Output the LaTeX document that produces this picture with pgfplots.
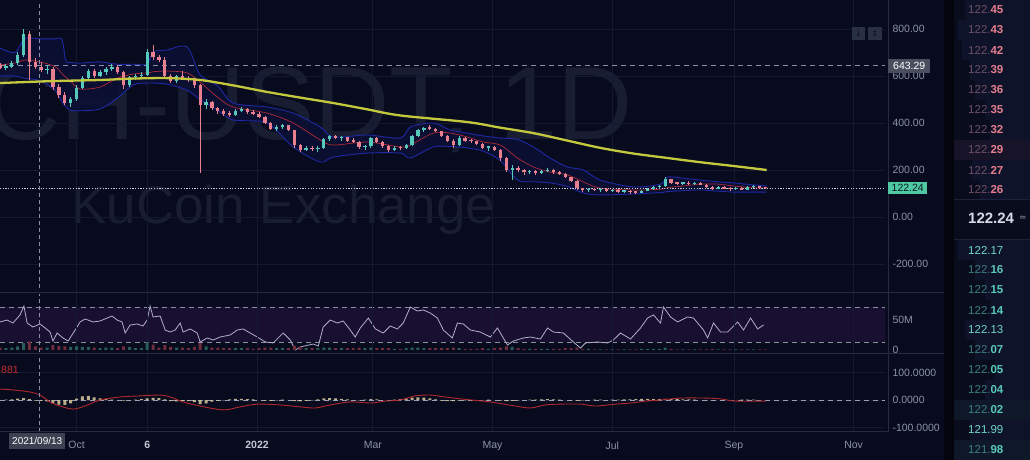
\documentclass[border=0pt]{standalone}
\usepackage{fontspec}
\setmainfont{Liberation Sans}
\newfontfamily\dejavu{DejaVu Sans}
\usepackage{pgfplots}
\usepackage{pgfplotstable}
\pgfplotsset{compat=1.18}

\definecolor{bg}{HTML}{070B1D}
\definecolor{gridc}{HTML}{131931}
\definecolor{axc}{HTML}{252B40}
\definecolor{wm}{HTML}{181D32}
\definecolor{upc}{HTML}{56C9BC}
\definecolor{dnc}{HTML}{E8808F}
\definecolor{bbc}{HTML}{2028A4}
\definecolor{bbfill}{HTML}{0B1034}
\definecolor{basisc}{HTML}{B02A38}
\definecolor{mac}{HTML}{C4C83E}
\definecolor{labc}{HTML}{8C93A8}
\definecolor{dashc}{HTML}{8A8FA6}
\definecolor{rsifill}{HTML}{180F31}
\definecolor{rsic}{HTML}{B4AECC}
\definecolor{volup}{HTML}{2A5C5A}
\definecolor{voldn}{HTML}{6E2C3C}
\definecolor{sigc}{HTML}{B02830}
\definecolor{histc}{HTML}{CFC39A}
\definecolor{obbg}{HTML}{090C1D}
\definecolor{obdepth}{HTML}{0F1329}
\definecolor{askdim}{HTML}{6E5066}
\definecolor{askc}{HTML}{E67E8E}
\definecolor{biddim}{HTML}{3A7E7E}
\definecolor{bidc}{HTML}{58C8BA}
\definecolor{bidhi}{HTML}{6ED6C8}
\definecolor{lblbox}{HTML}{4A4F60}
\definecolor{lastbox}{HTML}{4FC9A3}
\definecolor{btn}{HTML}{283041}
\definecolor{btnarr}{HTML}{0B0F1E}
\definecolor{askhl}{HTML}{17142A}
\definecolor{bidhl}{HTML}{0F1829}
\definecolor{obsep}{HTML}{1C2238}
\definecolor{lastline}{HTML}{C8CCD8}
\definecolor{brightlab}{HTML}{C4C8D4}
\definecolor{zeroc}{HTML}{9A9EB0}
\definecolor{lasttxt}{HTML}{0A1A20}
\definecolor{datebox}{HTML}{3C4252}
\definecolor{redtxt}{HTML}{C42A2C}
\definecolor{midtxt}{HTML}{D6DAE6}
\definecolor{gap}{HTML}{04050C}

\newcommand\tf{\fontsize{10.5}{12}\selectfont}
\newcommand\obf{\fontsize{11.5}{13}\selectfont}

% rising candles: day, open, high, low, close, volume (M)
\pgfplotstableread{
d o h l c v
3 635 650 625 640 3
6 640 665 635 655 4
9 655 700 645 690 6
12 690 800 680 780 12
24 625 645 610 630 4
36 485 510 468 500 5
39 500 560 495 550 6
42 550 600 545 590 5
45 590 630 585 620 5
51 600 625 595 615 3
54 615 640 605 630 4
57 630 650 620 640 4
66 560 600 555 595 5
69 595 610 585 598 3
72 598 615 590 605 3
75 605 715 600 700 13
90 580 605 570 600 4
105 475 500 460 490 6
120 435 460 430 452 3
123 452 470 445 460 3
141 375 390 365 385 3
144 385 395 375 390 3
156 285 300 280 295 3
162 288 300 275 295 3
165 295 335 290 330 4
168 330 350 325 345 4
174 335 345 325 340 3
186 298 305 285 300 3
189 300 342 295 335 4
201 285 300 280 295 2
207 292 310 288 305 3
210 305 350 300 345 4
213 345 375 340 370 4
216 370 385 360 380 3
234 305 345 300 338 3
249 295 302 280 298 2
261 200 220 157 210 5
270 190 200 185 196 2
276 188 200 182 195 2
279 195 210 190 202 2
300 115 122 108 118 2
306 114 122 108 119 1
312 110 118 105 113 1
318 108 115 102 112 1
327 104 115 102 112 2
330 112 125 110 120 2
333 120 130 117 127 2
336 127 135 120 130 2
339 130 170 128 160 4
348 142 150 136 146 1
354 140 148 135 144 1
366 120 130 118 127 1
375 118 127 115 124 1
381 117 130 115 126 1
384 126 135 122 130 1
}\upc

% falling candles
\pgfplotstableread{
d o h l c v
0 645 655 630 635 4
15 780 790 583 660 14
18 660 675 630 640 6
21 640 660 615 625 4
27 630 640 540 555 8
30 555 565 505 520 7
33 520 530 475 485 6
48 620 630 590 600 4
60 640 645 610 615 3
63 615 620 545 560 6
78 700 732 670 680 9
81 680 690 660 670 4
84 670 680 590 600 8
87 600 610 570 580 5
93 600 622 585 592 4
96 592 600 575 585 3
99 585 590 550 560 5
102 560 565 187 475 12
108 490 495 455 465 4
111 465 470 440 450 4
114 450 460 430 440 3
117 440 450 425 435 3
126 460 465 440 445 3
129 445 455 435 440 2
132 440 445 420 425 3
135 425 430 395 400 4
138 400 405 370 375 4
147 390 392 365 370 3
150 370 372 295 305 7
153 305 310 275 285 5
159 295 300 280 288 3
171 345 348 330 335 3
177 340 342 320 325 3
180 325 335 315 320 3
183 320 322 290 298 4
192 335 340 315 320 3
195 320 322 295 300 3
198 300 305 275 285 3
204 295 300 285 292 2
219 380 391 370 375 3
222 375 380 360 365 3
225 365 368 340 345 3
228 345 350 320 325 3
231 325 330 295 305 4
237 338 342 320 325 2
240 325 332 315 322 2
243 322 325 305 310 2
246 310 315 290 295 3
252 298 300 280 285 3
255 285 290 240 250 4
258 250 255 190 200 6
264 210 215 190 198 3
267 198 205 180 190 2
273 196 200 180 188 2
282 202 205 185 190 2
285 190 195 180 184 2
288 184 188 165 170 3
291 170 172 150 155 3
294 155 158 115 122 4
297 122 125 108 115 2
303 118 124 110 114 1
309 119 122 105 110 1
315 113 118 104 108 1
321 112 116 100 105 1
324 105 110 100 104 1
342 160 162 140 145 2
345 145 150 138 142 1
351 146 152 138 140 1
357 144 150 135 138 1
360 138 140 125 128 1
363 128 132 115 120 2
369 127 132 118 121 1
372 121 126 112 118 1
378 124 128 114 117 1
387 130 132 120 124 1
390 124 128 119 122.24 1
}\dnc

% MACD histogram
\pgfplotstableread{
d m
3 1
6 2
9 5
12 7
15 3
18 -2
21 -3
24 -5
27 -12
30 -17
33 -18
36 -12
39 5
42 13
45 15
48 10
51 6
54 3
57 1
63 -2
66 -1
69 1
72 3
75 6
78 8
81 7
84 2
87 -4
90 -5
93 -3
96 -4
99 -8
102 -15
105 -12
108 -6
111 -3
114 -1
117 2
120 4
123 4
126 3
129 2
135 -2
138 -3
141 -1
144 1
150 -4
153 -5
156 -3
159 -1
162 2
165 6
168 7
171 6
174 4
177 2
183 -1
186 1
189 3
192 2
198 -1
201 1
204 3
207 6
210 9
213 10
216 9
219 6
222 2
225 -2
228 -4
231 -4
234 -2
237 -1
240 -2
243 -2
246 -1
249 1
255 -2
258 -4
261 -3
264 -1
270 1
273 1
276 2
279 3
282 2
285 1
291 -1
294 -2
297 -1
303 1
306 1
312 1
315 1
318 2
321 2
324 3
327 4
330 4
333 3
336 3
339 4
342 3
345 3
348 2
351 2
354 1
360 -1
363 -1
372 -1
378 1
381 1
384 1
}\hist

\pgfplotstableread{
d up mid lo
0 719 647 600
7.6 700 655 600
12.7 760 668 590
20.4 758 660 580
28 758 640 540
31.6 755 610 490
33.5 665 595 470
35.7 658 580 455
40.8 655 545 452
51 660 553 460
59.7 650 591 505
67.8 650 608 562
75 650 613 570
78 702 618 570
85.2 711 621 565
95.4 723 613 540
102 604 574 500
110.7 560 511 455
118.8 485 468 413
136.2 468 442 400
149.4 442 400 298
163.2 383 328 234
169.8 340 306 255
187.2 349 319 272
204 336 298 272
209.1 383 306 251
220.8 400 357 298
229.5 370 357 300
238.2 357 340 294
246.3 345 319 280
255 336 306 240
263.7 330 251 157
271.8 298 213 150
280.5 250 191 145
289.2 213 179 130
297.3 200 149 102
306 157 123 94
322.8 128 115 98
336.6 140 118 104
340.2 170 125 108
348.3 165 132 112
357 157 140 115
365.7 150 140 110
373.8 145 132 106
382.5 138 125 106
390.7 132 123 106
}\bands

\pgfplotstableread{
d ma
0 570
25.5 578
51 583
67.8 589
85.2 591
102 583
118.8 560
136.2 532
153 508
169.8 485
187.2 458
204 432
238.2 404
255 380
271.8 357
289.2 325
306 294
322.8 270
340.2 251
357 233
373.8 217
390.7 200
}\mad

\pgfplotstableread{
d rsi
0 52.9
3.6 55.1
6.6 51.7
10.2 60.9
12.2 71.1
13.8 51.7
16.8 47.1
20.4 50.6
23 46
25.5 41.4
27 31.1
29.1 40.3
32.1 34.6
34.7 31.1
38.3 43.7
40.8 52.9
43.4 56.3
47.4 52.9
51 54
54.6 57.4
57.1 59.7
59.7 55.1
62.2 52.9
63.8 40.3
66.3 49.4
69.9 50.6
72.9 48.3
75 55.1
76.5 71.1
78 58.6
81.6 59.7
84.2 43.7
86.7 41.4
89.3 43.7
91.8 51.7
93.3 41.4
96.9 44.9
100.5 40.3
102 30
105.6 34.6
108.6 32.3
112.2 35.7
117.3 38
120.9 43.7
123.9 44.9
127.5 40.3
131.1 35.7
135.2 30
139.2 28.9
144.3 40.3
147.9 32.3
150.5 20.9
153 24.3
159.6 27.7
162.2 25.4
164.7 47.1
168.3 55.1
171.9 51.7
174.9 54
178.5 43.7
181 35.7
183.6 46
187.7 57.4
191.3 44.9
195.3 40.3
198.9 48.3
202.5 44.9
205.5 51.7
209.1 70
212.7 65.4
215.7 66.6
219.3 63.1
222.9 57.4
225.9 43.7
230.5 34.6
233.1 51.7
236.1 50.6
239.7 43.7
244.8 41.4
249.9 35.7
253.5 46
256.5 34.6
258.6 26.6
261.6 31.1
266.7 34.6
270.3 35.7
275.4 33.4
279 46
282 41.4
287.1 40.3
292.2 30
295.8 23.1
298.4 28.9
304.5 30
309.6 28.9
312.6 32.3
316.2 40.3
321.3 33.4
326.4 46
330 57.4
333 60.9
336.6 51.7
338.1 70
341.7 58.6
345.3 52.9
350.4 58.6
353.4 57.4
358.5 43.7
360.6 34.6
363.6 51.7
367.2 41.4
370.8 41.4
375.9 52.9
378.9 43.7
382.5 57.4
386.1 44.9
389.1 49.4
}\rsid

\pgfplotstableread{
d sig
0 40
7.6 36
15.3 29
20.4 18
25.5 -7
30.6 -22
37.2 -33
43.3 -22
51 0
61.2 11
71.4 15
81.6 18
86.7 11
93.3 -7
102 -22
113.7 -36
122.4 -25
131.1 -15
142.8 -18
153 -25
160.7 -29
168.3 -18
178.5 -7
188.7 -11
196.4 -4
204 0
211.7 15
219.3 18
226.9 11
234.6 4
249.9 -7
262.7 -22
270.3 -29
277.9 -18
285.6 -15
295.8 -15
303.5 -22
313.7 -15
321.3 -11
329 -4
336.6 0
346.8 7
359.6 7
367.2 4
374.9 -4
390.2 -4
}\macdd

\pgfplotsset{
  panel/.style={
    scale only axis, width=885pt, xmin=0, xmax=451,
    axis line style={draw=none}, major tick style={draw=none},
    xtick={39,75,131,190,251,312,374,435},
    yticklabel pos=right,
    yticklabel style={anchor=west, font=\tf, text=labc, xshift=4pt},
    major grid style={gridc, line width=0.7pt},
  },
  cross/.style={dashc, dash pattern=on 4pt off 3pt, line width=0.7pt, forget plot},
}

\begin{document}
\begin{tikzpicture}[x=1pt,y=1pt]
\fill[bg] (0,0) rectangle (1030,460);
\useasboundingbox (0,0) rectangle (1030,460);
% order book area
\fill[gap] (944,0) rectangle (954,460);
\fill[obbg] (954,0) rectangle (1030,460);
\fill[obdepth] (965,440) rectangle (1030,460);
\fill[obdepth] (958,420) rectangle (1030,440);
\fill[obdepth] (962,400) rectangle (1030,420);
\fill[obdepth] (970,380) rectangle (1030,400);
\fill[obdepth] (975,360) rectangle (1030,380);
\fill[obdepth] (985,340) rectangle (1030,360);
\fill[obdepth] (990,320) rectangle (1030,340);
\fill[askhl] (954,300) rectangle (1030,320);
\fill[obdepth] (972,280) rectangle (1030,300);
\fill[obdepth] (980,260) rectangle (1030,280);
\fill[obdepth] (958,200) rectangle (1030,220);
\fill[obdepth] (975,180) rectangle (1030,200);
\fill[obdepth] (985,160) rectangle (1030,180);
\fill[obdepth] (990,140) rectangle (1030,160);
\fill[obdepth] (965,120) rectangle (1030,140);
\fill[obdepth] (975,100) rectangle (1030,120);
\fill[obdepth] (995,80) rectangle (1030,100);
\fill[obdepth] (985,60) rectangle (1030,80);
\fill[bidhl] (954,40) rectangle (1030,60);
\fill[obdepth] (970,20) rectangle (1030,40);
\fill[bidhl] (954,0) rectangle (1030,20);
\draw[obsep, line width=0.8pt] (954,261) -- (1030,261);
\draw[obsep, line width=0.8pt] (954,221) -- (1030,221);

% watermark
\begin{scope}
\clip (0,168) rectangle (885,460);
\node[anchor=base east, text=wm, font=\fontsize{104}{104}\selectfont, inner sep=0] at (633,320) {BCH-USDT, 1D};
\node[anchor=base west, text=wm, font=\fontsize{53}{53}\selectfont, inner sep=0] at (71,236) {KuCoin Exchange};
\end{scope}

% ---------------- main price panel
\begin{axis}[panel, at={(0pt,168pt)}, anchor=south west, height=292pt,
  ymin=-319.1, ymax=923.4, xticklabels={},
  ytick={-200,0,200,400,600,800},
  yticklabels={-200.00,0.00,200.00,400.00,600.00,800.00},
  grid=major]
% Bollinger band area (upper band forward, lower band back)
\addplot[fill=bbfill, draw=none, fill opacity=0.9] coordinates {
(0,719) (7.6,700) (12.7,760) (20.4,758) (28,758) (31.6,755) (33.5,665) (35.7,658) (40.8,655) (51,660) (59.7,650) (67.8,650) (75,650) (78,702) (85.2,711) (95.4,723) (102,604) (110.7,560) (118.8,485) (136.2,468) (149.4,442) (163.2,383) (169.8,340) (187.2,349) (204,336) (209.1,383) (220.8,400) (229.5,370) (238.2,357) (246.3,345) (255,336) (263.7,330) (271.8,298) (280.5,250) (289.2,213) (297.3,200) (306,157) (322.8,128) (336.6,140) (340.2,170) (348.3,165) (357,157) (365.7,150) (373.8,145) (382.5,138) (390.7,132)
(390.7,106) (382.5,106) (373.8,106) (365.7,110) (357,115) (348.3,112) (340.2,108) (336.6,104) (322.8,98) (306,94) (297.3,102) (289.2,130) (280.5,145) (271.8,150) (263.7,157) (255,240) (246.3,280) (238.2,294) (229.5,300) (220.8,298) (209.1,251) (204,272) (187.2,272) (169.8,255) (163.2,234) (149.4,298) (136.2,400) (118.8,413) (110.7,455) (102,500) (95.4,540) (85.2,565) (78,570) (75,570) (67.8,562) (59.7,505) (51,460) (40.8,452) (35.7,455) (33.5,470) (31.6,490) (28,540) (20.4,580) (12.7,590) (7.6,600) (0,600)};
\addplot[bbc, line width=0.9pt, smooth] table[x=d,y=up]{\bands};
\addplot[bbc, line width=0.9pt, smooth] table[x=d,y=lo]{\bands};
\addplot[basisc, line width=0.7pt, smooth] table[x=d,y=mid]{\bands};
\addplot[dashc, dash pattern=on 5pt off 4pt, line width=0.7pt] coordinates {(0,643.29) (451,643.29)};
\addplot[lastline, dash pattern=on 1.2pt off 1.5pt, line width=0.7pt] coordinates {(0,122.24) (451,122.24)};
\addplot[cross] coordinates {(19.9,-300) (19.9,920)};
% wicks
\addplot[upc, line width=0.8pt, quiver={u=0, v=\thisrow{h}-\thisrow{l}}] table[x=d, y=l]{\upc};
\addplot[dnc, line width=0.8pt, quiver={u=0, v=\thisrow{h}-\thisrow{l}}] table[x=d, y=l]{\dnc};
% bodies
\addplot[upc, line width=3.3pt, quiver={u=0, v={max(\thisrow{c}-\thisrow{o},6)}}] table[x=d, y=o]{\upc};
\addplot[dnc, line width=3.3pt, quiver={u=0, v={max(\thisrow{o}-\thisrow{c},6)}}] table[x=d, y=c]{\dnc};
\addplot[mac, line width=2.3pt, smooth] table[x=d,y=ma]{\mad};
\end{axis}

% ---------------- RSI panel (RSI scale)
\begin{axis}[panel, at={(0pt,107pt)}, anchor=south west, height=60pt,
  ymin=17.43, ymax=86, hide axis]
\addplot[fill=rsifill, draw=none] coordinates {(0,30) (451,30) (451,70) (0,70) (0,30)};
\addplot[dashc, dash pattern=on 5pt off 4pt, line width=0.7pt] coordinates {(0,70) (451,70)};
\addplot[dashc, dash pattern=on 5pt off 4pt, line width=0.7pt] coordinates {(0,30) (451,30)};
\addplot[rsic, line width=0.8pt] table[x=d,y=rsi]{\rsid};
\addplot[cross] coordinates {(19.9,18) (19.9,85)};
\end{axis}
% ---------------- volume (same panel)
\begin{axis}[panel, at={(0pt,107pt)}, anchor=south west, height=60pt,
  ymin=-5, ymax=95, xticklabels={},
  ytick={0,50}, yticklabels={0,50M}, xmajorgrids]
\addplot[ybar, bar width=3pt, bar shift=0pt, fill=volup, draw=none] table[x=d,y=v]{\upc};
\addplot[ybar, bar width=3pt, bar shift=0pt, fill=voldn, draw=none] table[x=d,y=v]{\dnc};
\end{axis}

% ---------------- MACD panel
\begin{axis}[panel, at={(0pt,28pt)}, anchor=south west, height=77pt,
  ymin=-116.36, ymax=163.64,
  ytick={-100,0,100}, yticklabels={-100.0000,0.0000,100.0000},
  xticklabels={Oct,{\color{brightlab}\bfseries 6},{\color{brightlab}\bfseries 2022},Mar,May,Jul,Sep,Nov},
  xticklabel style={font=\tf, text=labc, yshift=-6pt},
  grid=major]
\addplot[zeroc, dash pattern=on 5pt off 4pt, line width=0.7pt] coordinates {(0,0) (451,0)};
\addplot[ybar, bar width=3pt, bar shift=0pt, fill=histc, fill opacity=0.9, draw=none] table[x=d,y=m]{\hist};
\addplot[sigc, line width=0.9pt, smooth] table[x=d,y=sig]{\macdd};
\addplot[cross] coordinates {(19.9,-115) (19.9,160)};
\end{axis}

% separators
\draw[axc, line width=1pt] (0,167.5) -- (944,167.5);
\draw[axc, line width=1pt] (0,106) -- (944,106);
\draw[axc, line width=1pt] (0,28) -- (888,28);
\draw[axc, line width=1pt] (888,28) -- (888,460);

% price labels on axis
\node[fill=lblbox, text=white, font=\tf, inner xsep=5pt, inner ysep=3.2pt, anchor=west] at (888,394) {643.29};
\node[fill=lastbox, text=lasttxt, font=\tf, inner xsep=3.5pt, inner ysep=2.3pt, anchor=west] at (888,272) {122.24};
% buttons
\fill[btn] (852,420) rectangle (865,433);
\fill[btn] (868,420) rectangle (882,433);
\node[text=btnarr, font=\dejavu\fontsize{8}{8}\selectfont, inner sep=0] at (858.5,426.5) {↓};
\node[text=btnarr, font=\dejavu\fontsize{8}{8}\selectfont, inner sep=0] at (875,426.5) {↕};
% crosshair date
\node[fill=datebox, text=white, font=\fontsize{10}{12}\selectfont, inner xsep=3pt, inner ysep=4pt, anchor=west] at (9,19) {2021/09/13};
% macd value fragment
\node[text=redtxt, font=\tf, anchor=west, inner sep=0] at (1,90) {881};

% order book
\newcommand\ask[3]{\node[anchor=west,inner sep=0,font=\obf] at (968,#1) {\textcolor{askdim}{#2}\textcolor{askc}{\bfseries #3}};}
\newcommand\bid[3]{\node[anchor=west,inner sep=0,font=\obf] at (968,#1) {\textcolor{biddim}{#2}\textcolor{bidc}{\bfseries #3}};}
\newcommand\bidh[2]{\node[anchor=west,inner sep=0,font=\obf] at (968,#1) {\textcolor{bidhi}{#2}};}
\ask{450}{122.}{45}
\ask{430}{122.}{43}
\ask{410}{122.}{42}
\ask{390}{122.}{39}
\ask{370}{122.}{36}
\ask{350}{122.}{35}
\ask{330}{122.}{32}
\ask{310}{122.}{29}
\ask{290}{122.}{27}
\ask{270}{122.}{26}
\node[anchor=west,inner sep=0,font=\fontsize{15}{17}\selectfont\bfseries, text=midtxt] at (968,242) {122.24};
\node[anchor=west,inner sep=0,font=\dejavu\fontsize{9}{10}\selectfont, text=labc] at (1019,242) {≈};
\bidh{210}{122.17}
\bid{190}{122.}{16}
\bid{170}{122.}{15}
\bid{150}{122.}{14}
\bidh{130}{122.13}
\bid{110}{122.}{07}
\bid{90}{122.}{05}
\bid{70}{122.}{04}
\bid{50}{122.}{02}
\bidh{30}{121.99}
\bid{10}{121.}{98}
\end{tikzpicture}
\end{document}
